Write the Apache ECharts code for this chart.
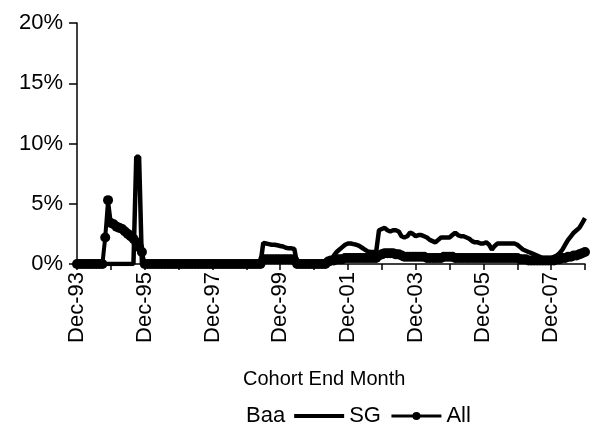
<!DOCTYPE html>
<html>
<head>
<meta charset="utf-8">
<script src="https://cdn.jsdelivr.net/npm/echarts@6/dist/echarts.min.js"></script>
<style>html,body{margin:0;padding:0;background:#fff;}#c{width:597px;height:429px;}</style>
</head>
<body>
<div id="c"></div>
<script>
// Monthly cohorts Dec-93 .. Dec-08 (181 months)
var monthNames = ['Jan','Feb','Mar','Apr','May','Jun','Jul','Aug','Sep','Oct','Nov','Dec'];
var categories = [];
for (var k = 0; k < 181; k++) {
  var m = (11 + k) % 12, y = 1993 + Math.floor((11 + k) / 12);
  categories.push(monthNames[m] + '-' + String(y % 100).padStart(2, '0'));
}
var yTicks = [0, 5, 10, 15, 20];
var seriesNames = ['Baa', 'SG', 'All'];

// Baa: not visible in the reference
var baa = [];
for (var b = 0; b < 181; b++) baa.push(0);

var sg = [
 0,0,0,0,0,0,0,0,0,0, 0,0,0,0,0,0,0,0,0,0,          // 0-19
 0,8.9,8.9,0,0,0,0,0,0,0, 0,0,0,0,0,0,0,0,0,0,     // 20-39
 0,0,0,0,0,0,0,0,0,0, 0,0,0,0,0,0,0,0,0,0,          // 40-59
 0,0,0,0,0,0,1.75,1.7,1.65,1.6, 1.6,1.55,1.5,1.45,1.35,1.3,1.3,1.25,0,0, // 60-79
 0,0,0,0,0,0,0,0,0,0.1, 0.3,0.7,1.0,1.2,1.4,1.6,1.7,1.7,1.65,1.6,      // 80-99
 1.5,1.35,1.2,1.05,1.0,1.0,1.0,2.8,2.9,3.0, 2.8,2.7,2.8,2.8,2.7,2.3,2.2,2.3,2.6,2.5, // 100-119
 2.3,2.4,2.4,2.3,2.2,2.0,1.9,1.8,2.0,2.2, 2.2,2.2,2.2,2.4,2.6,2.4,2.3,2.3,2.2,2.1, // 120-139
 1.9,1.8,1.8,1.7,1.7,1.8,1.6,1.2,1.5,1.7, 1.7,1.7,1.7,1.7,1.7,1.7,1.6,1.4,1.2,1.1, // 140-159
 1.0,0.9,0.8,0.7,0.6,0.5,0.5,0.5,0.5,0.6, 0.7,0.9,1.2,1.6,2.0,2.3,2.6,2.8,3.0,3.4, // 160-179
 3.8                                                                   // 180
];

var all = [
 0,0,0,0,0,0,0,0,0,0, 2.2,5.3,3.4,3.3,3.1,3.0,2.9,2.7,2.5,2.3,      // 0-19
 2.1,1.8,1.4,1.0,0,0,0,0,0,0, 0,0,0,0,0,0,0,0,0,0,                // 20-39
 0,0,0,0,0,0,0,0,0,0, 0,0,0,0,0,0,0,0,0,0,                        // 40-59
 0,0,0,0,0,0,0.4,0.4,0.4,0.4, 0.4,0.4,0.4,0.4,0.4,0.4,0.4,0.3,0,0, // 60-79
 0,0,0,0,0,0,0,0,0,0.2, 0.3,0.3,0.4,0.4,0.4,0.5,0.5,0.5,0.5,0.5,  // 80-99
 0.5,0.5,0.5,0.5,0.5,0.5,0.5,0.7,0.8,0.9, 0.9,0.9,0.9,0.8,0.8,0.7,0.6,0.6,0.6,0.6, // 100-119
 0.6,0.6,0.6,0.6,0.5,0.5,0.5,0.5,0.5,0.5, 0.6,0.6,0.6,0.6,0.5,0.5,0.5,0.5,0.5,0.5, // 120-139
 0.5,0.5,0.5,0.5,0.5,0.5,0.5,0.5,0.5,0.5, 0.5,0.5,0.5,0.5,0.5,0.5,0.5,0.4,0.4,0.4, // 140-159
 0.3,0.3,0.3,0.3,0.3,0.3,0.3,0.3,0.3,0.3, 0.4,0.4,0.5,0.5,0.6,0.6,0.7,0.7,0.8,0.9, // 160-179
 1.0                                                                 // 180
];

var FONT = 'Liberation Sans, Arial, sans-serif';
var chart = echarts.init(document.getElementById('c'), null, {renderer: 'canvas'});
chart.setOption({
  animation: false,
  backgroundColor: '#fff',
  grid: {left: 77, right: 12, top: 23, bottom: 165, containLabel: false},
  xAxis: {
    type: 'category',
    data: categories,
    boundaryGap: false,
    axisLine: {lineStyle: {color: '#000', width: 1.5}},
    axisTick: {show: true, length: 6, inside: false, lineStyle: {color: '#000', width: 1.5},
      interval: function (i) { return i % 12 === 0; }},
    axisLabel: {rotate: 90, margin: 8, color: '#000', fontFamily: FONT, fontSize: 22,
      interval: function (i) { return i % 24 === 0; }},
    splitLine: {show: false}
  },
  yAxis: {
    type: 'value',
    min: yTicks[0], max: yTicks[yTicks.length - 1], interval: 5,
    axisLine: {show: true, lineStyle: {color: '#000', width: 1.5}},
    axisTick: {show: true, length: 8, lineStyle: {color: '#000', width: 1.5}},
    axisLabel: {formatter: '{value}%', margin: 14, color: '#000', fontFamily: FONT, fontSize: 22},
    splitLine: {show: false}
  },
  legend: {
    left: 186, top: 400,
    itemWidth: 50, itemHeight: 10, itemGap: 9,
    lineStyle: {width: 3},
    textStyle: {color: '#000', fontFamily: FONT, fontSize: 22},
    data: [
      {name: seriesNames[0], icon: 'none'},
      {name: seriesNames[1], icon: 'path://M0,0 H50 V4 H0 Z'},
      {name: seriesNames[2]}
    ]
  },
  graphic: [{
    type: 'text', left: 243, top: 369,
    style: {text: 'Cohort End Month', fill: '#000', font: '20px ' + FONT}
  }],
  series: [
    {name: seriesNames[0], type: 'line', data: baa, symbol: 'none',
     lineStyle: {color: '#fff', width: 0, opacity: 0}, itemStyle: {color: '#fff', opacity: 0}, z: 1},
    {name: seriesNames[1], type: 'line', data: sg, symbol: 'none',
     lineStyle: {color: '#000', width: 4.5}, itemStyle: {color: '#000'}, z: 3},
    {name: seriesNames[2], type: 'line', data: all, symbol: 'circle', symbolSize: 10,
     showSymbol: true, showAllSymbol: true,
     lineStyle: {color: '#000', width: 4}, itemStyle: {color: '#000'}, z: 2}
  ]
});
</script>
</body>
</html>
